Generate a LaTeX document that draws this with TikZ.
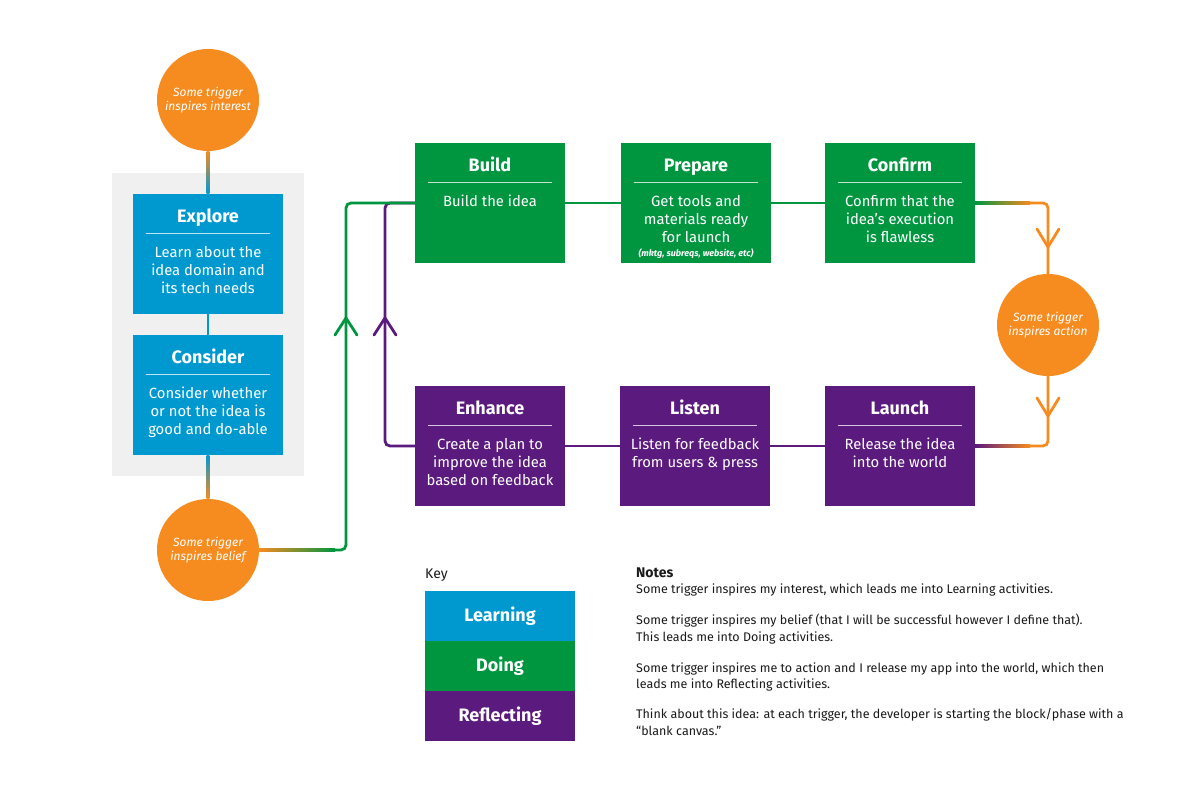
\documentclass[tikz,border=0pt]{standalone}
\usepackage{fontspec}
\setmainfont{Fira Sans}
\usetikzlibrary{calc}
\definecolor{cOrange}{HTML}{F68B1F}
\definecolor{cBlue}{HTML}{0099CF}
\definecolor{cGreen}{HTML}{009640}
\definecolor{cPurple}{HTML}{5B1A7D}
\definecolor{cGray}{HTML}{F0F0F0}
\definecolor{cText}{HTML}{1A1A1A}
\tikzset{
  pbox/.style={draw=none, minimum width=150pt, minimum height=120pt, inner sep=0pt},
  ptitle/.style={anchor=base, text=white, inner sep=0pt, font=\fontsize{18}{20}\selectfont\bfseries},
  pbody/.style={anchor=north, text=white, inner sep=0pt, align=center, font=\fontsize{14.8}{18}\selectfont},
  divider/.style={draw=white, opacity=0.75, line width=1pt},
  trig/.style={circle, fill=cOrange, minimum size=102pt, inner sep=0pt, text=white, align=center, font=\fontsize{12}{14}\selectfont\itshape},
  conn/.style={line width=2.8pt, rounded corners=5pt},
  vhead/.style={line width=2.8pt, line join=round, line cap=round},
  keybox/.style={minimum width=150pt, minimum height=50pt, inner sep=0pt, text=white, font=\fontsize{18}{20}\selectfont\bfseries},
  note/.style={anchor=base west, inner sep=0pt, text=cText, font=\fontsize{12.5}{16}\selectfont},
}
\newcommand\phasebox[6]{%
  \node[pbox, fill=#4] (#1) at (#2,#3+60) {};
  \node[ptitle] (#1-t) at ($(#1.north)+(0,28.5)$) {#5};
  \draw[divider] ($(#1.north west)+(13,40)$) -- ($(#1.north east)+(-13,40)$);
  \node[pbody] (#1-b) at ($(#1.north)+(0,50.6)$) {\strut #6};
}
\begin{document}
\begin{tikzpicture}[x=1pt,y=-1pt]
\useasboundingbox[fill=white] (0,0) rectangle (1200,800);

% gray learning panel
\fill[cGray] (112,173) rectangle (304,476);

% triggers
\node[trig] (c1) at (208,100) {Some trigger\\inspires interest};
\node[trig] (c2) at (208,550) {Some trigger\\inspires belief};
\node[trig] (c3) at (1048,325) {Some trigger\\inspires action};

% phases
\phasebox{explore}{208}{194}{cBlue}{Explore}{Learn about the\\idea domain and\\its tech needs}
\phasebox{consider}{208}{335}{cBlue}{Consider}{Consider whether\\or not the idea is\\good and do-able}
\phasebox{build}{490}{143}{cGreen}{Build}{Build the idea}
\phasebox{prepare}{696}{143}{cGreen}{Prepare}{Get tools and\\materials ready\\for launch}
\node[anchor=base, text=white, inner sep=0pt, font=\fontsize{9}{10}\selectfont\bfseries\itshape] (prepare-s) at ($(prepare.north)+(0,114)$) {(mktg, subreqs, website, etc)};
\phasebox{confirm}{900}{143}{cGreen}{Confirm}{Confirm that the\\idea’s execution\\is flawless}
\phasebox{enhance}{490}{386}{cPurple}{Enhance}{Create a plan to\\improve the idea\\based on feedback}
\phasebox{listen}{695}{386}{cPurple}{Listen}{Listen for feedback\\from users \& press}
\phasebox{launch}{900}{386}{cPurple}{Launch}{Release the idea\\into the world}

% learning column connectors
\shade[top color=cOrange, bottom color=cBlue] ($(c1.south)+(-1.4,0)$) rectangle ($(explore.north)+(1.4,0)$);
\draw[conn, cBlue] (explore.south) -- (consider.north);
\shade[top color=cBlue, bottom color=cOrange] ($(consider.south)+(-1.4,0)$) rectangle ($(c2.north)+(1.4,0)$);

% coordinates
\coordinate (pTop) at (385,203);
\coordinate (pBot) at (385,446);
\coordinate (gTop) at (346,203);
\coordinate (gBot) at (346,550);
\coordinate (gFade) at (335,550);
\coordinate (oTop) at (1048,203);
\coordinate (oBot) at (1048,446);
\coordinate (oFadeT) at (1030,203);
\coordinate (oFadeB) at (1030,446);
\coordinate (gArrow) at (346,318);
\coordinate (pArrow) at (385,318);
\coordinate (oArrow1) at (1048,247);
\coordinate (oArrow2) at (1048,416);

% reflecting loop back
\draw[conn, cPurple] (enhance.west) -- (pBot) -- (pTop) -- (build.west);
\draw[vhead, cPurple] ($(pArrow)+(-11,17)$) -- (pArrow) -- ($(pArrow)+(11,17)$);

% belief -> doing
\shade[left color=cOrange, right color=cGreen] ($(c2.east)+(0,-1.4)$) rectangle ($(gFade)+(0,1.4)$);
\draw[conn, cGreen] (gFade) -- (gBot) -- (gTop) -- (build.west);
\draw[vhead, cGreen] ($(gArrow)+(-11,17)$) -- (gArrow) -- ($(gArrow)+(11,17)$);

% doing row
\draw[conn, cGreen] (build.east) -- (prepare.west);
\draw[conn, cGreen] (prepare.east) -- (confirm.west);

% confirm -> action
\shade[left color=cGreen, right color=cOrange] ($(confirm.east)+(0,-1.4)$) rectangle ($(oFadeT)+(0,1.4)$);
\draw[conn, cOrange] (oFadeT) -- (oTop) -- (c3.north);
\draw[vhead, cOrange] ($(oArrow1)+(-11,-18)$) -- (oArrow1) -- ($(oArrow1)+(11,-18)$);

% action -> launch
\shade[left color=cPurple, right color=cOrange] ($(launch.east)+(0,-1.4)$) rectangle ($(oFadeB)+(0,1.4)$);
\draw[conn, cOrange] (c3.south) -- (oBot) -- (oFadeB);
\draw[vhead, cOrange] ($(oArrow2)+(-11,-18)$) -- (oArrow2) -- ($(oArrow2)+(11,-18)$);

% reflecting row
\draw[conn, cPurple] (launch.west) -- (listen.east);
\draw[conn, cPurple] (listen.west) -- (enhance.east);

% key
\node[anchor=base west, inner sep=0pt, text=cText, font=\fontsize{14}{16}\selectfont] (keyt) at (425,578) {Key};
\node[keybox, fill=cBlue] (kl) at (500,616) {Learning};
\node[keybox, fill=cGreen] (kd) at (500,666) {Doing};
\node[keybox, fill=cPurple] (kr) at (500,716) {Reflecting};

% notes
\node[anchor=base west, inner sep=0pt, text=cText, font=\fontsize{14}{16}\selectfont\bfseries] (nt) at (636,577) {Notes};
\node[note] (n1) at (636,593) {Some trigger inspires my interest, which leads me into Learning activities.};
\node[note] (n2) at (636,624) {Some trigger inspires my belief (that I will be successful however I define that).};
\node[note] (n3) at (636,641) {This leads me into Doing activities.};
\node[note] (n4) at (636,672) {Some trigger inspires me to action and I release my app into the world, which then};
\node[note] (n5) at (636,688) {leads me into Reflecting activities.};
\node[note] (n6) at (636,718) {Think about this idea: at each trigger, the developer is starting the block/phase with a};
\node[note] (n7) at (636,735) {“blank canvas.”};
\end{tikzpicture}
\end{document}
